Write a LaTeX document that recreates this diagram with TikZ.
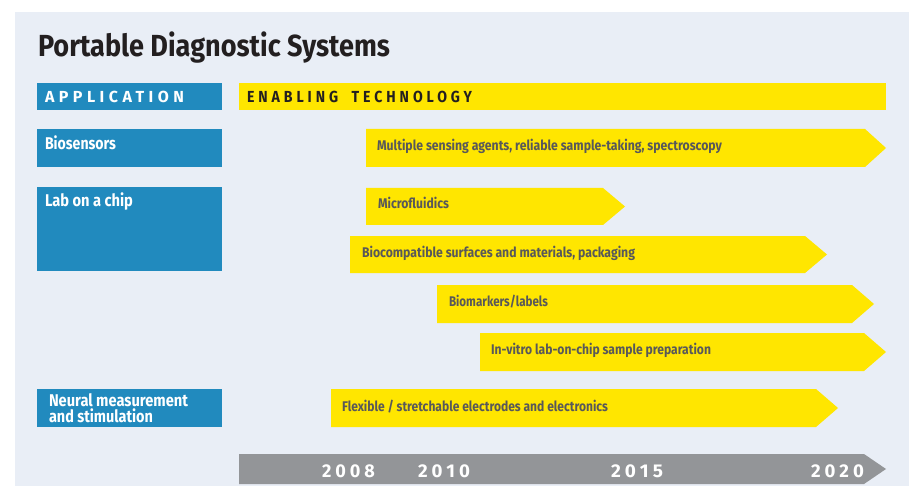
\documentclass[tikz,border=0pt]{standalone}
\usepackage{fontspec}
\setmainfont{Fira Sans}
\usepackage{graphicx}
\definecolor{panel}{RGB}{233,238,246}
\definecolor{appblue}{RGB}{33,138,190}
\definecolor{yel}{RGB}{255,230,0}
\definecolor{tlgray}{RGB}{147,149,152}
\definecolor{tgray}{RGB}{88,88,90}
\definecolor{titlec}{RGB}{35,31,32}
\newsavebox\fitbox
\newcommand\fitw[2]{\sbox\fitbox{#2}\pgfmathsetmacro\fitr{#1/\the\wd\fitbox}\scalebox{\fitr}[1]{\usebox\fitbox}}
\newcommand\yarrow[5]{\fill[yel] (#1,#2) -- (#3,#2) -- (#4,{(#2+#5)/2}) -- (#3,#5) -- (#1,#5) -- cycle;}
\tikzset{
  txt/.style={anchor=base west, inner sep=0pt, outer sep=0pt},
  titletext/.style={txt, text=titlec, font=\fontsize{30.5}{30}\selectfont\bfseries},
  hdrtext/.style={txt, font=\fontsize{16}{16}\selectfont\bfseries\addfontfeature{LetterSpace=28}},
  apptext/.style={txt, text=white, font=\fontsize{17}{16}\selectfont\bfseries},
  bartext/.style={txt, text=tgray, font=\fontsize{14}{14}\selectfont\bfseries},
  yeartext/.style={txt, text=white, font=\fontsize{18.5}{18}\selectfont\bfseries\addfontfeature{LetterSpace=22}},
}
\begin{document}
\begin{tikzpicture}[x=1pt,y=-1pt]
\useasboundingbox (0,0) rectangle (909,486);
\fill[white] (0,0) rectangle (909,486);
\fill[panel] (15,12) rectangle (909,486);

% title
\node[titletext] (title) at (38,57) {\fitw{352}{Portable Diagnostic Systems}};

% header bars
\fill[appblue] (37,83) rectangle (222,110);
\node[hdrtext, text=white] (apphdr) at (45,102.3) {\fitw{139}{APPLICATION}};
\fill[yel] (239,83) rectangle (886,110);
\node[hdrtext, text=titlec] (techhdr) at (247,103) {\fitw{225}{ENABLING\hspace{7pt} TECHNOLOGY}};

% application boxes
\fill[appblue] (37,129) rectangle (222,166.7);
\node[apptext] (bio) at (45,149.3) {\fitw{71}{Biosensors}};
\fill[appblue] (37,187) rectangle (222,270.7);
\node[apptext] (loc) at (45,207) {\fitw{88}{Lab on a chip}};
\fill[appblue] (37,389) rectangle (222,426.7);
\node[apptext] (neu1) at (49,406) {\fitw{139}{Neural measurement}};
\node[apptext] (neu2) at (49,422) {\fitw{104}{and stimulation}};

% technology arrows
\yarrow{366}{129}{865}{886}{167}
\node[bartext] (t1) at (377,150.7) {\fitw{345}{Multiple sensing agents, reliable sample-taking, spectroscopy}};
\yarrow{366}{188}{603}{625}{225}
\node[bartext] (t2) at (378,209) {\fitw{71}{Microfluidics}};
\yarrow{350}{236}{805}{827}{273}
\node[bartext] (t3) at (362,257) {\fitw{273}{Biocompatible surfaces and materials, packaging}};
\yarrow{437}{285}{852}{874}{323}
\node[bartext] (t4) at (449,306) {\fitw{99}{Biomarkers/labels}};
\yarrow{480}{333}{864}{886}{371}
\node[bartext] (t5) at (491,354) {\fitw{220}{In-vitro lab-on-chip sample preparation}};
\yarrow{331}{389}{816}{838}{427}
\node[bartext] (t6) at (342,411) {\fitw{266}{Flexible / stretchable electrodes and electronics}};

% timeline
\fill[tlgray] (239,454) -- (864,454) -- (886,469) -- (864,484) -- (239,484) -- cycle;
\node[yeartext] (y08) at (322,477) {\fitw{53}{2008}};
\node[yeartext] (y10) at (418,477) {\fitw{52}{2010}};
\node[yeartext] (y15) at (611,477) {\fitw{52}{2015}};
\node[yeartext] (y20) at (811,477) {\fitw{53}{2020}};
\end{tikzpicture}
\end{document}
